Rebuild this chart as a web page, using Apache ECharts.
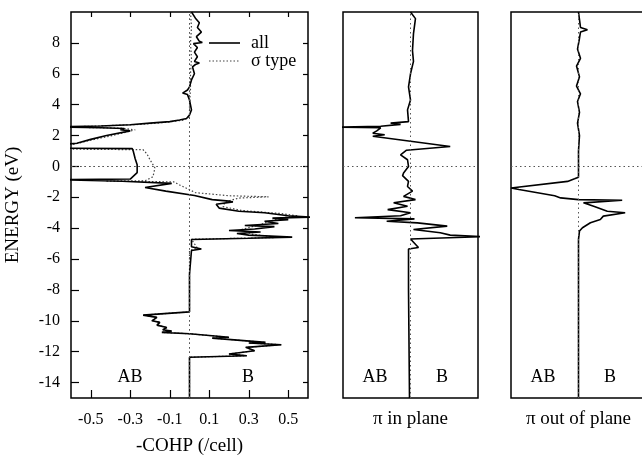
<!DOCTYPE html>
<html>
<head>
<meta charset="utf-8">
<script src="https://cdn.jsdelivr.net/npm/echarts@6/dist/echarts.min.js"></script>
<style>
  html, body { margin: 0; padding: 0; background: #fff; }
  #chart { width: 642px; height: 455px; }
</style>
</head>
<body>
<div id="chart"></div>
<script>
// -COHP curves (energy in eV, -COHP per cell)
const allEnergy = [10, 9.6, 9.3, 9.0, 8.7, 8.4, 8.1, 8.02, 7.95, 7.7, 7.4, 7.1, 6.8, 6.7, 6.6, 6.45, 6.0, 5.6, 5.15, 4.95, 4.75, 4.65, 4.3, 3.66, 3.33, 3.1, 3.0, 2.9, 2.8, 2.7, 2.62, 2.56, 2.5, 2.45, 2.38, 2.3, 2.0, 1.75, 1.5, 1.4, 1.18, 1.15, 1.0, 0.5, 0.1, -0.4, -0.82, -0.86, -0.93, -0.96, -1.1, -1.37, -1.6, -1.89, -2.15, -2.25, -2.3, -2.45, -2.7, -2.9, -3.0, -3.2, -3.28, -3.35, -3.45, -3.55, -3.7, -3.83, -3.9, -4.05, -4.15, -4.25, -4.35, -4.45, -4.58, -4.65, -4.73, -5.2, -5.35, -5.45, -7.0, -9.42, -9.63, -9.78, -10.0, -10.1, -10.28, -10.43, -10.58, -10.67, -10.75, -10.84, -11.07, -11.12, -11.4, -11.44, -11.55, -11.72, -11.94, -12.15, -12.26, -12.36, -15];
const allCohp = [0.01, 0.03, 0.05, 0.04, 0.06, 0.035, 0.05, 0.065, 0.02, 0.04, 0.025, 0.04, 0.025, 0.05, 0.03, 0.015, 0.025, 0.01, 0.0, -0.01, -0.035, -0.01, 0.0, 0.01, 0.0, -0.015, -0.05, -0.1, -0.2, -0.3, -0.45, -0.65, -0.45, -0.33, -0.35, -0.3, -0.42, -0.5, -0.57, -0.65, -0.65, -0.29, -0.285, -0.275, -0.265, -0.265, -0.3, -0.65, -0.65, -0.34, -0.09, -0.225, -0.12, 0.025, 0.115, 0.2, 0.22, 0.135, 0.15, 0.25, 0.38, 0.5, 0.62, 0.42, 0.5, 0.38, 0.45, 0.28, 0.43, 0.33, 0.2, 0.36, 0.24, 0.3, 0.52, 0.3, 0.01, 0.01, 0.06, 0.01, 0.0, 0.0, -0.235, -0.165, -0.19, -0.15, -0.165, -0.115, -0.135, -0.09, -0.14, 0.0, 0.2, 0.115, 0.385, 0.3, 0.465, 0.285, 0.33, 0.2, 0.29, 0.0, 0.0];

const sigmaEnergy = [10, 9.0, 8.0, 7.0, 6.0, 5.0, 4.0, 3.2, 3.0, 2.85, 2.72, 2.6, 2.55, 2.48, 2.37, 2.0, 1.7, 1.45, 1.3, 1.12, 1.08, 0.8, 0.43, -0.1, -0.67, -0.93, -0.95, -1.0, -1.2, -1.45, -1.7, -1.9, -1.97, -2.05, -2.3, -2.6, -2.85, -3.05, -3.2, -3.3, -3.5, -3.8, -4.1, -4.4, -4.6, -4.72, -5.3, -5.45, -9.42, -9.63, -9.78, -10.0, -10.1, -10.28, -10.43, -10.58, -10.67, -10.75, -10.84, -11.07, -11.12, -11.4, -11.44, -11.55, -11.72, -11.94, -12.15, -12.26, -12.36, -15];
const sigmaCohp = [0.005, 0.01, 0.005, 0.01, 0.005, 0.005, 0.0, 0.0, -0.03, -0.12, -0.25, -0.5, -0.65, -0.35, -0.275, -0.39, -0.5, -0.58, -0.65, -0.65, -0.235, -0.215, -0.2, -0.175, -0.185, -0.225, -0.425, -0.08, -0.05, -0.01, 0.03, 0.2, 0.4, 0.25, 0.18, 0.17, 0.26, 0.46, 0.55, 0.48, 0.42, 0.35, 0.26, 0.32, 0.45, 0.01, 0.04, 0.0, 0.0, -0.235, -0.165, -0.19, -0.15, -0.165, -0.115, -0.135, -0.09, -0.14, 0.0, 0.2, 0.115, 0.385, 0.3, 0.465, 0.285, 0.33, 0.2, 0.29, 0.0, 0.0];

const inPlaneEnergy = [10, 9.9, 9.57, 8.6, 7.5, 6.8, 6.0, 5.15, 4.3, 3.66, 2.9, 2.8, 2.72, 2.6, 2.55, 2.5, 2.3, 2.15, 2.05, 1.95, 1.29, 1.05, 0.75, 0.43, 0.0, -0.43, -0.6, -0.97, -1.3, -1.6, -1.94, -2.15, -2.35, -2.58, -2.8, -3.0, -3.2, -3.33, -3.4, -3.55, -3.66, -3.87, -4.09, -4.3, -4.45, -4.55, -4.7, -4.78, -5.25, -5.35, -8.0, -15];
const inPlaneCohp = [0.0, 0.008, 0.025, 0.015, 0.01, 0.015, 0.0, -0.01, 0.0, -0.015, -0.01, -0.1, -0.05, -0.15, -0.36, -0.15, -0.17, -0.19, -0.13, -0.19, 0.2, -0.02, -0.05, -0.015, -0.01, -0.035, -0.04, -0.01, -0.015, 0.01, -0.035, 0.025, -0.085, -0.015, -0.115, 0.0, -0.05, -0.28, 0.02, -0.12, 0.035, 0.185, 0.015, 0.15, 0.2, 0.36, 0.0, -0.01, 0.04, -0.01, -0.01, -0.005];

const outPlaneEnergy = [10, 9.5, 9.0, 8.85, 8.7, 8.3, 7.6, 7.0, 6.5, 5.8, 5.2, 4.7, 4.2, 3.5, 2.8, 2.0, 1.0, -0.7, -0.8, -0.97, -1.4, -1.5, -1.9, -2.04, -2.15, -2.19, -2.36, -2.6, -2.9, -3.0, -3.22, -3.44, -3.65, -3.97, -4.19, -4.73, -15];
const outPlaneCohp = [0.0, 0.005, 0.01, 0.045, 0.01, 0.005, -0.005, 0.01, -0.01, 0.005, -0.01, 0.01, -0.005, 0.005, -0.005, 0.005, 0.0, 0.0, -0.02, -0.055, -0.34, -0.3, -0.12, -0.09, 0.0, 0.22, 0.025, 0.08, 0.145, 0.235, 0.125, 0.11, 0.06, 0.02, 0.005, 0.0, 0.0];

// axis ticks and labels
const energyTicks = [-14, -12, -10, -8, -6, -4, -2, 0, 2, 4, 6, 8];
const cohpTicks = [-0.5, -0.3, -0.1, 0.1, 0.3, 0.5];
const legendNames = ['all', 'σ type'];
const panelNames = ['-COHP (/cell)', 'π in plane', 'π out of plane'];
const sideLabels = ['AB', 'B'];

const pairs = (ys, xs) => ys.map((y, i) => [xs[i], y]);

const serif = 'Liberation Serif';
const grids = [
  { left: 71, top: 12, width: 237, height: 386 },
  { left: 343, top: 12, width: 135, height: 386 },
  { left: 511, top: 12, width: 135, height: 386 }
].map(g => Object.assign(g, {
  show: true, borderColor: '#000', borderWidth: 1.5, backgroundColor: 'transparent',
  containLabel: false, outerBoundsMode: 'none'
}));

const tickStyle = { show: true, inside: true, length: 8, lineStyle: { color: '#000', width: 1.2 } };
const noLine = { show: false, onZero: false };
const nameFont = { color: '#000', fontFamily: serif, fontSize: 19 };

const xAxes = [
  { gridIndex: 0, type: 'value', min: -0.6, max: 0.6, position: 'bottom',
    axisLine: noLine, splitLine: { show: false },
    axisTick: Object.assign({ customValues: cohpTicks }, tickStyle),
    axisLabel: { customValues: cohpTicks, color: '#000', fontFamily: serif, fontSize: 16, margin: 14 },
    name: panelNames[0], nameLocation: 'middle', nameGap: 39, nameTextStyle: nameFont },
  { gridIndex: 0, type: 'value', min: -0.6, max: 0.6, position: 'top',
    axisLine: noLine, splitLine: { show: false },
    axisTick: Object.assign({ customValues: cohpTicks }, tickStyle, { length: 5 }),
    axisLabel: { show: false } },
  { gridIndex: 1, type: 'value', min: -0.34, max: 0.34,
    axisLine: noLine, splitLine: { show: false }, axisTick: { show: false }, axisLabel: { show: false },
    name: panelNames[1], nameLocation: 'middle', nameGap: 12, nameTextStyle: nameFont },
  { gridIndex: 2, type: 'value', min: -0.34, max: 0.34,
    axisLine: noLine, splitLine: { show: false }, axisTick: { show: false }, axisLabel: { show: false },
    name: panelNames[2], nameLocation: 'middle', nameGap: 12, nameTextStyle: nameFont }
];

const yAxes = [
  { gridIndex: 0, type: 'value', min: -15, max: 10, position: 'left',
    axisLine: noLine, splitLine: { show: false },
    axisTick: Object.assign({ customValues: energyTicks }, tickStyle),
    axisLabel: { customValues: energyTicks, color: '#000', fontFamily: serif, fontSize: 16, margin: 11 },
    name: 'ENERGY (eV)', nameLocation: 'middle', nameGap: 48, nameTextStyle: nameFont },
  { gridIndex: 0, type: 'value', min: -15, max: 10, position: 'right',
    axisLine: noLine, splitLine: { show: false },
    axisTick: Object.assign({ customValues: energyTicks }, tickStyle, { length: 5 }),
    axisLabel: { show: false } },
  { gridIndex: 1, type: 'value', min: -15, max: 10,
    axisLine: noLine, splitLine: { show: false }, axisTick: { show: false }, axisLabel: { show: false } },
  { gridIndex: 2, type: 'value', min: -15, max: 10,
    axisLine: noLine, splitLine: { show: false }, axisTick: { show: false }, axisLabel: { show: false } }
];

const zeroLines = {
  silent: true, symbol: 'none', label: { show: false },
  lineStyle: { type: [1.5, 3], color: '#555', width: 1 },
  data: [{ xAxis: 0 }, { yAxis: 0 }]
};

const curve = (name, xi, yi, data, style) => ({
  name, type: 'line', xAxisIndex: xi, yAxisIndex: yi, data,
  showSymbol: false, symbol: 'none', clip: true, animation: false,
  lineStyle: style, itemStyle: { color: style.color },
  markLine: zeroLines
});

const solid = { color: '#000', width: 1.6, type: 'solid' };
const dotted = { color: '#444', width: 1.2, type: [1.5, 2] };

const series = [
  curve(legendNames[1], 0, 0, pairs(sigmaEnergy, sigmaCohp), dotted),
  curve(legendNames[0], 0, 0, pairs(allEnergy, allCohp), solid),
  curve('inPlane', 2, 2, pairs(inPlaneEnergy, inPlaneCohp), solid),
  curve('outPlane', 3, 3, pairs(outPlaneEnergy, outPlaneCohp), solid)
];

const graphic = [];

// key for the two curves of the first panel
[[43, solid], [61, dotted]].forEach(([ky, st], k) => {
  graphic.push({ type: 'line', silent: true,
    shape: { x1: 209, y1: ky, x2: 240, y2: ky },
    style: { stroke: st.color, lineWidth: st.width, lineDash: st.type === 'solid' ? null : st.type } });
  graphic.push({ type: 'text', x: 251, y: ky, silent: true,
    style: { text: legendNames[k], fill: '#000', font: '18px "Liberation Serif"', textAlign: 'left', textVerticalAlign: 'middle' } });
});

// AB / B side labels inside each panel
const sideText = [[130, 248], [375, 442], [543, 610]];
sideText.forEach(([abX, bX]) => {
  [abX, bX].forEach((cx, k) => {
    graphic.push({ type: 'text', x: cx, y: 377, silent: true,
      style: { text: sideLabels[k], fill: '#000', font: '18px "Liberation Serif"', textAlign: 'center', textVerticalAlign: 'middle' } });
  });
});

const chart = echarts.init(document.getElementById('chart'), null, { renderer: 'canvas' });
chart.setOption({
  animation: false,
  backgroundColor: '#fff',
  grid: grids,
  xAxis: xAxes,
  yAxis: yAxes,
  graphic,
  series
});
</script>
</body>
</html>
